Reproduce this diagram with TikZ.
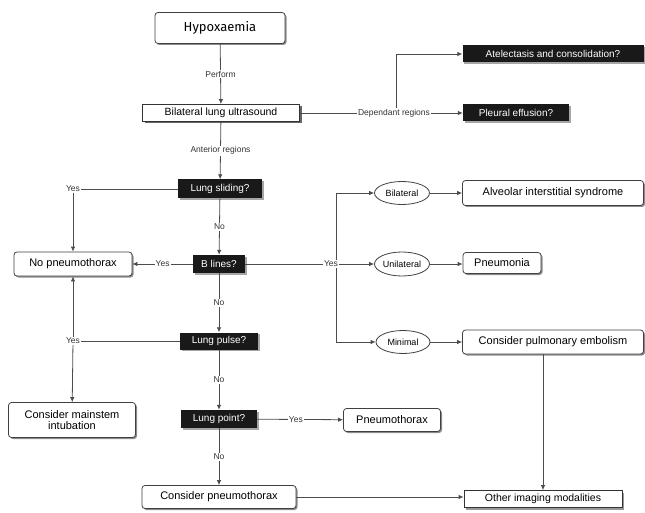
\documentclass[tikz,border=0pt]{standalone}
\usepackage{fontspec}
\setmainfont{Liberation Sans}
\newfontfamily\hypfont{Fira Sans}
\usetikzlibrary{shapes.geometric,shadows,arrows.meta}
\begin{document}
\begin{tikzpicture}[x=1pt,y=-1pt,
  line/.style={draw=black!70,line width=0.8pt},
  arr/.style={line,-{Latex[length=5pt,width=4.5pt]}},
  lbl/.style={fill=white,inner sep=1pt,font=\fontsize{8.5}{9}\selectfont,text=black!80},
  rbox/.style={draw=black!75,line width=0.8pt,fill=white,rounded corners=3pt,
    drop shadow={shadow xshift=1.5pt,shadow yshift=-1.5pt,fill=black!45,opacity=1},
    font=\fontsize{11}{12}\selectfont,inner sep=2pt,align=center},
  sbox/.style={draw=black!80,line width=0.8pt,fill=white,
    drop shadow={shadow xshift=2pt,shadow yshift=-2pt,fill=black!60,opacity=1},
    font=\fontsize{10.5}{12}\selectfont,inner sep=1pt},
  dbox/.style={fill=black!90,text=white,
    drop shadow={shadow xshift=1.5pt,shadow yshift=-1.5pt,fill=black!35,opacity=1},
    font=\fontsize{10}{11}\selectfont,inner sep=1pt},
  oval/.style={ellipse,draw=black!75,line width=0.8pt,fill=white,inner sep=0pt,
    font=\fontsize{9}{10}\selectfont}
]
\useasboundingbox (0,0) rectangle (645,513);

% nodes
\node[rbox,minimum width=130pt,minimum height=31pt,font=\hypfont\fontsize{13}{15}\selectfont] (hyp) at (220,28) {Hypoxaemia};
\node[sbox,minimum width=157pt,minimum height=17pt] (blu) at (221,113) {Bilateral lung ultrasound};
\node[dbox,minimum width=181pt,minimum height=17pt] (atel) at (553,54) {Atelectasis and consolidation?};
\node[dbox,minimum width=106pt,minimum height=17pt] (pleu) at (516,113) {Pleural effusion?};
\node[dbox,minimum width=84pt,minimum height=19pt] (ls) at (220,189) {Lung sliding?};
\node[rbox,minimum width=118pt,minimum height=24pt] (nop) at (73,264) {No pneumothorax};
\node[dbox,minimum width=52pt,minimum height=18pt] (bl) at (219,264) {B lines?};
\node[oval,minimum width=55pt,minimum height=23pt] (bil) at (402,193) {Bilateral};
\node[oval,minimum width=55pt,minimum height=24pt] (uni) at (402,264) {Unilateral};
\node[oval,minimum width=54pt,minimum height=23pt] (mini) at (403,342) {Minimal};
\node[rbox,minimum width=181pt,minimum height=25pt] (ais) at (553,193) {Alveolar interstitial syndrome};
\node[rbox,minimum width=78pt,minimum height=21pt] (pna) at (502,263) {Pneumonia};
\node[rbox,minimum width=181pt,minimum height=24pt] (cpe) at (553,342) {Consider pulmonary embolism};
\node[dbox,minimum width=78pt,minimum height=17pt] (lpu) at (219,341) {Lung pulse?};
\node[dbox,minimum width=76pt,minimum height=18pt] (lpo) at (219,419) {Lung point?};
\node[rbox,minimum width=97pt,minimum height=23pt] (ptx) at (392,420) {Pneumothorax};
\node[rbox,minimum width=127pt,minimum height=35pt,font=\fontsize{11}{11.5}\selectfont] (cmi) at (72,420) {Consider mainstem\\intubation};
\node[rbox,minimum width=154pt,minimum height=23pt] (cpt) at (219,497) {Consider pneumothorax};
\node[sbox,minimum width=158pt,minimum height=17pt,drop shadow={shadow xshift=2pt,shadow yshift=-2pt,fill=black!40,opacity=1}] (oim) at (543,499) {Other imaging modalities};

% helper coordinates
\coordinate (dep) at (396,113);
\coordinate (lsy) at (73,189);
\coordinate (ybr) at (336,264);
\coordinate (lpy) at (73,341);

% connectors
\draw[arr] (hyp) -- node[lbl]{Perform} (blu);
\draw[arr] (blu) -- node[lbl]{Anterior regions} (ls);
\draw[arr] (blu) -- (pleu);
\draw[arr] (dep) |- (atel);
\node[lbl] (deplbl) at (394,113) {Dependant regions};

\draw[line] (ls) -- (lsy);
\draw[arr] (lsy) -- (nop);
\node[lbl] (lsylbl) at (lsy) {Yes};

\draw[arr] (ls) -- node[lbl]{No} (bl);
\draw[arr] (bl) -- node[lbl]{Yes} (nop);

\draw[line] (bl) -- (ybr);
\draw[arr] (ybr) |- (bil);
\draw[arr] (ybr) -- (uni);
\draw[arr] (ybr) |- (mini);
\node[lbl] (ybrlbl) at (331,264) {Yes};
\draw[arr] (bil) -- (ais);
\draw[arr] (uni) -- (uni -| pna.west);
\draw[arr] (mini) -- (cpe);

\draw[arr] (bl) -- node[lbl]{No} (lpu);
\draw[line] (lpu) -- (lpy);
\draw[arr] (lpy) -- (nop);
\draw[arr] (lpy) -- (cmi);
\node[lbl] (lpylbl) at (lpy) {Yes};

\draw[arr] (lpu) -- node[lbl]{No} (lpo);
\draw[arr] (lpo) -- node[lbl,pos=0.45]{Yes} (ptx);
\draw[arr] (lpo) -- node[lbl]{No} (cpt);
\draw[arr] (cpt) -- (cpt -| oim.west);
\draw[arr] (cpe.south -| oim.north) -- (oim);
\end{tikzpicture}
\end{document}
